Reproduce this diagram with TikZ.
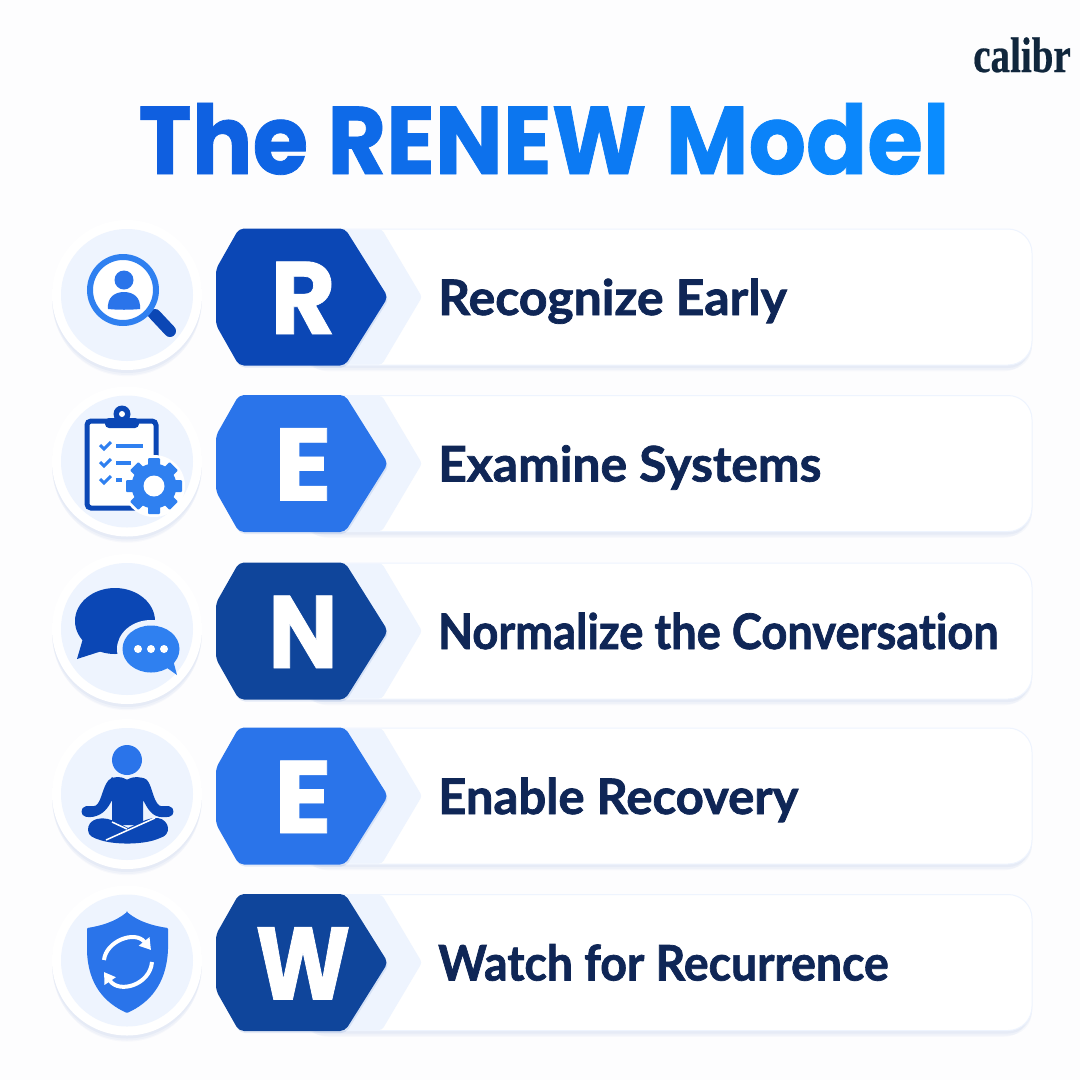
\documentclass[tikz,border=0pt]{standalone}
\usepackage{fontspec}
\usepackage{graphicx}
\usepackage{xcolor}
\usetikzlibrary{arrows.meta,shadows}
\setmainfont{Poppins}[BoldFeatures={FakeBold=0.8}]
\newfontfamily\logofont[BoldFeatures={FakeBold=0.5}]{Liberation Serif}
\newfontfamily\labelfont[Ligatures=NoCommon,BoldFeatures={FakeBold=1.5}]{Lato}
\definecolor{page_bg}{HTML}{FDFDFE}
\definecolor{navy_text}{HTML}{0F2656}
\definecolor{logo_ink}{HTML}{10263C}
\definecolor{pale_blue}{HTML}{EEF4FE}
\definecolor{royal}{HTML}{0B47B5}
\definecolor{deep}{HTML}{0F459B}
\definecolor{bright}{HTML}{2A74EA}
\definecolor{sky}{HTML}{2F80F0}
\definecolor{title_a}{HTML}{0F5FE0}
\definecolor{title_b}{HTML}{0A8CFF}
\newcommand{\tl}[2]{\textcolor{title_b!#1!title_a}{#2}}
\begin{document}
\begin{tikzpicture}[x=1pt,y=-1pt,
	soft_shadow/.style={
		drop shadow={shadow xshift=0pt,shadow yshift=-7pt,shadow scale=0.99,fill=royal,opacity=0.025},
		drop shadow={shadow xshift=0pt,shadow yshift=-5pt,shadow scale=1,fill=royal,opacity=0.03},
		drop shadow={shadow xshift=0pt,shadow yshift=-3pt,shadow scale=1,fill=royal,opacity=0.035}},
	outer_disc/.style={circle,fill=white,inner sep=0pt,minimum size=150pt,soft_shadow},
	inner_disc/.style={circle,fill=pale_blue,inner sep=0pt,minimum size=132pt},
	row_pill/.style={rectangle,rounded corners=24pt,fill=white,draw=pale_blue,line width=1pt,inner sep=0pt,minimum width=732pt,minimum height=136pt,soft_shadow},
	row_letter/.style={text=white,font=\fontsize{103}{103}\selectfont\bfseries},
	row_label/.style={text=navy_text,font=\fontsize{49}{49}\selectfont\labelfont\bfseries}]
	\fill[page_bg] (0,0) rectangle (1080,1080);
	\useasboundingbox (0,0) rectangle (1080,1080);

	% header
	\node[anchor=base,inner sep=0pt,font=\fontsize{96}{96}\selectfont\bfseries] (title) at (544,174)
		{\scalebox{0.94}[1]{\tl{0}{T}\tl{5}{h}\tl{12}{e} \tl{25}{R}\tl{32}{E}\tl{40}{N}\tl{50}{E}\tl{60}{W} \tl{72}{M}\tl{80}{o}\tl{88}{d}\tl{94}{e}\tl{100}{l}}};
	\node[anchor=base,inner sep=0pt,text=logo_ink,font=\fontsize{50}{50}\selectfont\logofont\bfseries] (logo) at (1022,72) {\scalebox{0.78}[1]{calibr}};

	% rows
	\foreach \rowy/\ltr/\col/\txt/\idx/\lsx/\tsx in {297/R/royal/Recognize Early/1/0.97/1.018, 463.5/E/bright/Examine Systems/2/1.04/1.016, 631/N/deep/Normalize the Conversation/3/0.9/0.923, 796/E/bright/Enable Recovery/4/1.04/1, 962.5/W/deep/Watch for Recurrence/5/0.88/0.947} {
		\node[outer_disc] (disc_\idx) at (127,\rowy-2) {};
		\node[inner_disc] (inner_\idx) at (127,\rowy-2) {};
		\node[row_pill] (pill_\idx) at (666,\rowy) {};
		\fill[pale_blue,rounded corners=3pt] (345,\rowy-67.5) -- (382,\rowy-67.5) -- (422,\rowy) -- (382,\rowy+67.5) -- (345,\rowy+67.5) -- cycle;
		\fill[\col,rounded corners=5pt,drop shadow={shadow xshift=1pt,shadow yshift=-2pt,fill=royal,opacity=0.10}] (239,\rowy-68.5) -- (345,\rowy-68.5) -- (388,\rowy) -- (345,\rowy+68.5) -- (239,\rowy+68.5) -- (216,\rowy+28) -- (216,\rowy-28) -- cycle;
		\node[row_letter,anchor=base] (letter_\idx) at (303,\rowy+37) {\scalebox{\lsx}[1]{\ltr}};
		\node[row_label,inner sep=0pt,anchor=base west] (label_\idx) at (438,\rowy+18) {\scalebox{\tsx}[1]{\txt}};
	}

	% icon R: magnifier
	\draw[royal,line width=12pt,line cap=round] (155,315) -- (170,331);
	\draw[royal,line width=5pt] (147,312) -- (156,320);
	\filldraw[fill=white,draw=sky,line width=6pt] (123,290) circle (33);
	\fill[bright] (124,280) circle (9.5);
	\fill[bright] (108,309) .. controls (107,298) and (114,292) .. (124,292) .. controls (134,292) and (141,298) .. (140,309) .. controls (130,310) and (118,310) .. (108,309) -- cycle;

	% icon E: clipboard and gear
	\filldraw[fill=white,draw=royal,line width=5pt,rounded corners=4pt] (87,421) rectangle (156,508);
	\fill[royal] (122,414) circle (8.5);
	\fill[royal,rounded corners=4pt] (105,428) -- (105,418) -- (139,418) -- (139,428) -- cycle;
	\fill[white] (122,414) circle (3);
	\foreach \cy/\cx in {446/143, 463/131, 480/122} {
		\draw[sky,line width=3pt] (100,\cy-1) -- (104,\cy+3) -- (111,\cy-4);
		\draw[sky,line width=3.5pt] (116,\cy) -- (\cx,\cy);
	}
	\fill[white] (154,486) circle (31);
	\foreach \ang in {0,45,...,315} {
		\fill[sky,rotate around={\ang:(154,486)},rounded corners=1pt] (148,458) rectangle (160,470);
	}
	\fill[sky] (154,486) circle (22.5);
	\fill[white] (154,486) circle (10.5);

	% icon N: speech bubbles
	\fill[royal] (115,621) ellipse (40 and 33);
	\fill[royal] (84,635) -- (77,659) -- (105,650) -- cycle;
	\fill[pale_blue] (151,649) ellipse (34 and 29);
	\fill[sky] (151,649) ellipse (28.5 and 23.5);
	\fill[sky] (163,665) -- (177,675) -- (172,656) -- cycle;
	\foreach \dotx in {138,151,164} {
		\fill[white] (\dotx,649) circle (4);
	}

	% icon E: seated figure
	\fill[bright] (127,760) circle (15);
	\fill[royal,rounded corners=1pt] (112,778) .. controls (120,776) and (124,778) .. (127,780) .. controls (130,778) and (135,776) .. (143,778) .. controls (152,780) and (152,800) .. (160,806) -- (168,806) .. controls (175,807) and (175,816) .. (168,817) -- (160,817) .. controls (150,815) and (146,805) .. (143,800) -- (143,825) -- (112,825) -- (112,800) .. controls (108,808) and (103,815) .. (92,817) -- (87,817) .. controls (80,816) and (80,807) .. (87,806) -- (95,806) .. controls (102,802) and (103,782) .. (112,778) -- cycle;
	\fill[royal] (88,830) .. controls (88,820) and (98,817) .. (108,819) .. controls (118,822) and (124,826) .. (128,828) .. controls (135,825) and (148,817) .. (158,818) .. controls (170,820) and (172,835) .. (160,838) .. controls (145,845) and (115,845) .. (100,840) .. controls (94,838) and (88,836) .. (88,830) -- cycle;
	\draw[white,line width=1.5pt] (106,840) -- (155,818);
	\draw[white,line width=1.5pt] (112,822) -- (127,829);

	% icon W: shield
	\fill[bright,rounded corners=1pt] (127,912) .. controls (115,922) and (100,926) .. (87,928) -- (87,950) .. controls (88,985) and (105,1003) .. (127,1013) .. controls (149,1003) and (166,985) .. (168,950) -- (168,928) .. controls (154,926) and (139,922) .. (127,912) -- cycle;
	\draw[white,line width=4pt,-{Triangle[width=13pt,length=11pt]}] (104,960) .. controls (106,941) and (135,930) .. (151,950);
	\draw[white,line width=4pt,-{Triangle[width=13pt,length=11pt]}] (152,962) .. controls (150,985) and (119,994) .. (104,972);
\end{tikzpicture}
\end{document}
